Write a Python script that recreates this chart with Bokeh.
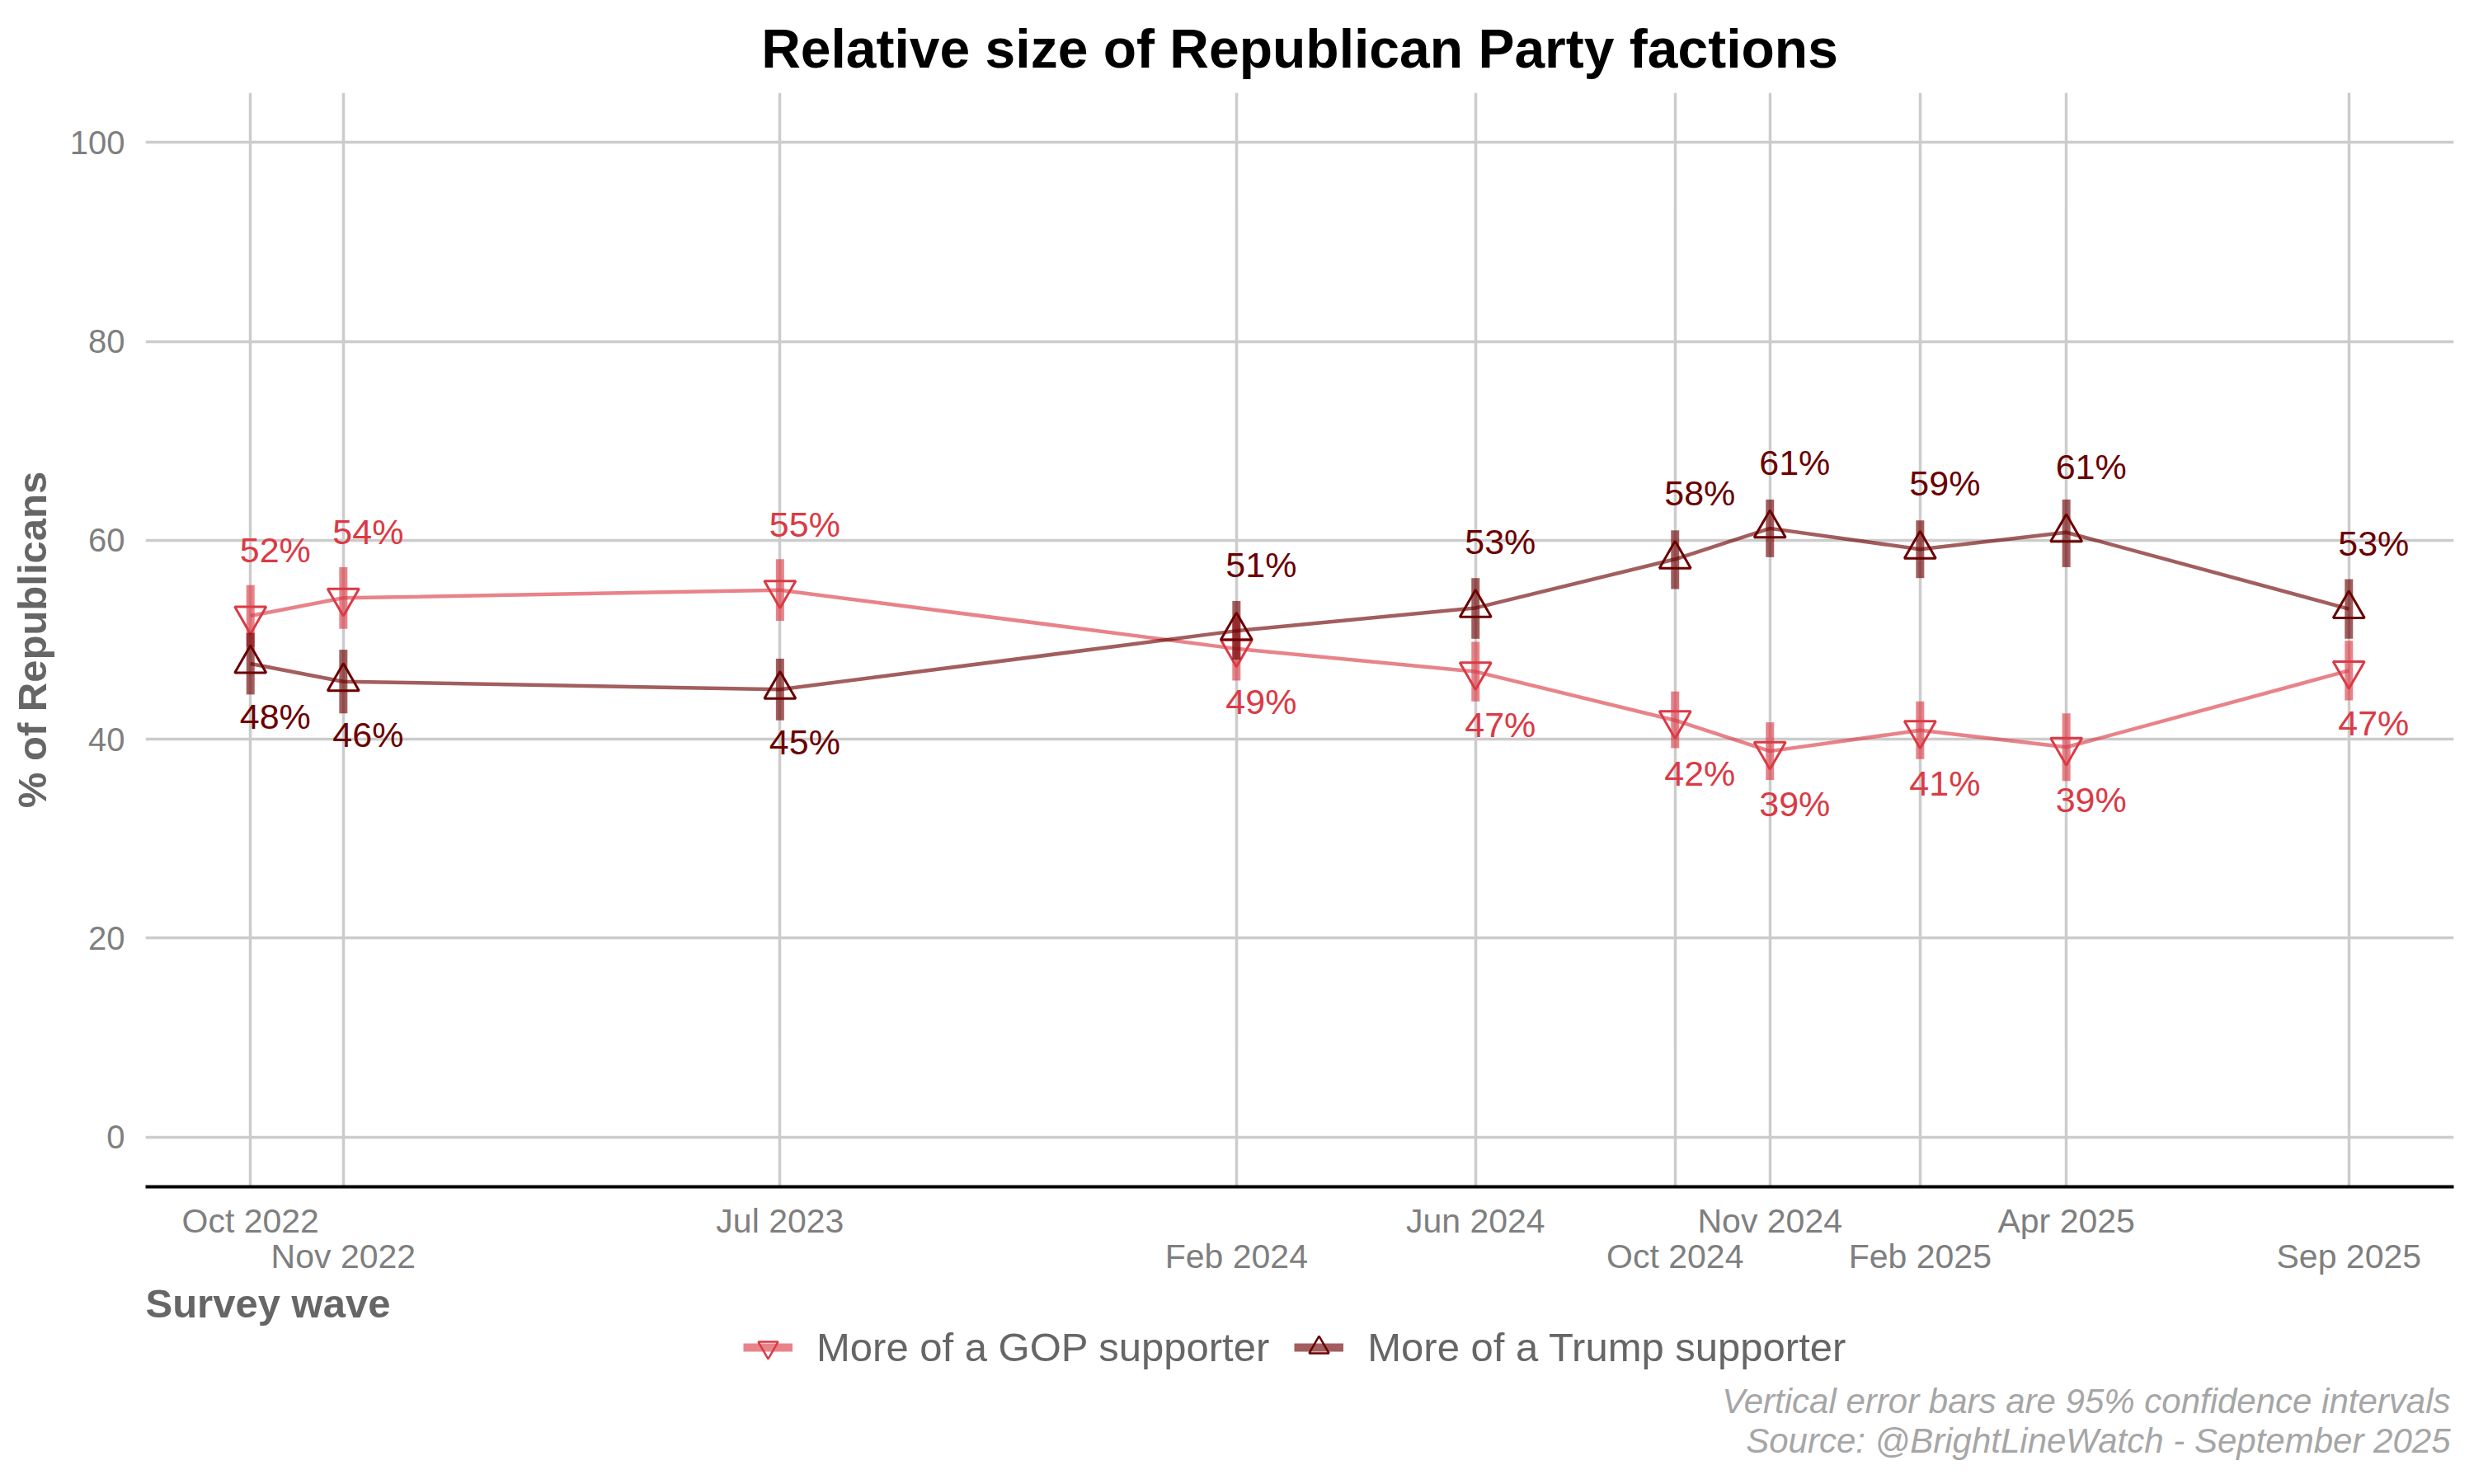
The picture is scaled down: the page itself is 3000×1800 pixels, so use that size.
import numpy as np
import pandas as pd
from bokeh.plotting import figure
from bokeh.layouts import column
from bokeh.models import (Range1d, FixedTicker, DatetimeAxis, Title, Legend, LegendItem,
                          ColumnDataSource, Label)
from bokeh.core.properties import value
from bokeh.embed import file_html
from bokeh.resources import INLINE

# ---------------- data ----------------
wave_dates = ["2022-10-12", "2022-11-28", "2023-07-07", "2024-02-23", "2024-06-23",
              "2024-10-02", "2024-11-19", "2025-02-03", "2025-04-18", "2025-09-08"]
wave_labels = ["Oct 2022", "Nov 2022", "Jul 2023", "Feb 2024", "Jun 2024",
               "Oct 2024", "Nov 2024", "Feb 2025", "Apr 2025", "Sep 2025"]

gop = [52.4, 54.2, 55.0, 49.1, 46.8, 41.9, 38.8, 40.9, 39.2, 46.9]
gop_lo = [49.3, 51.1, 51.9, 45.9, 43.8, 39.1, 35.9, 38.0, 35.8, 43.9]
gop_hi = [55.5, 57.3, 58.1, 52.3, 49.8, 44.8, 41.7, 43.8, 42.6, 49.9]

trump = [47.6, 45.8, 45.0, 50.9, 53.2, 58.1, 61.2, 59.1, 60.8, 53.1]
trump_lo = [44.5, 42.6, 41.9, 48.0, 50.1, 55.1, 58.3, 56.2, 57.3, 50.1]
trump_hi = [50.7, 49.0, 48.1, 53.9, 56.2, 61.0, 64.1, 62.0, 64.1, 56.1]

series_names = ["More of a GOP supporter", "More of a Trump supporter"]
series_colors = ["#DB3A45", "#6B0000"]

title_text = "Relative size of Republican Party factions"
y_title = "% of Republicans"
x_title = "Survey wave"
caption1 = "Vertical error bars are 95% confidence intervals"
caption2 = "Source: @BrightLineWatch - September 2025"
y_ticks = [0, 20, 40, 60, 80, 100]

# ---------------- derived ----------------
dates = pd.to_datetime(wave_dates)
ms = [int(d.value // 10**6) for d in dates]
span = ms[-1] - ms[0]

FONT = "Liberation Sans"
W = 2984
H_MAIN = 1551
H_FOOT = 1784 - H_MAIN
BL, BR = 176, 9
FRAME_W = W - BL - BR

p = figure(x_axis_type="datetime", output_backend="svg", toolbar_location=None,
           width=W, height=H_MAIN,
           x_range=Range1d(ms[0] - 0.05 * span, ms[-1] + 0.05 * span),
           y_range=Range1d(-5, 105),
           min_border_left=BL, min_border_right=BR, min_border_top=112, min_border_bottom=112,
           background_fill_color="white", border_fill_color="white")
p.outline_line_color = None

# title
p.title = Title(text=title_text, align="center", text_font=FONT, text_font_size="66px",
                text_font_style="bold", text_color="black", standoff=34)

# y axis
yax = p.yaxis[0]
yax.ticker = FixedTicker(ticks=y_ticks)
yax.axis_line_color = None
yax.major_tick_line_color = None
yax.minor_tick_line_color = None
yax.major_label_text_font = FONT
yax.major_label_text_font_size = "40px"
yax.major_label_text_color = "#7F7F7F"
yax.major_label_standoff = 19
yax.axis_label = y_title
yax.axis_label_text_font = FONT
yax.axis_label_text_font_size = "49px"
yax.axis_label_text_font_style = "bold"
yax.axis_label_text_color = "#666666"
yax.axis_label_standoff = 16

# x axes (two rows of tick labels)
row1 = [m for i, m in enumerate(ms) if i % 2 == 0]
row2 = [m for i, m in enumerate(ms) if i % 2 == 1]
xax = p.xaxis[0]
xax.ticker = FixedTicker(ticks=row1)
xax.major_label_overrides = {m: wave_labels[i] for i, m in enumerate(ms) if i % 2 == 0}
xax2 = DatetimeAxis(ticker=FixedTicker(ticks=row2),
                    major_label_overrides={m: wave_labels[i] for i, m in enumerate(ms) if i % 2 == 1})
p.add_layout(xax2, "below")
for ax in (xax, xax2):
    ax.major_tick_line_color = None
    ax.minor_tick_line_color = None
    ax.major_label_text_font = FONT
    ax.major_label_text_font_size = "41px"
    ax.major_label_text_color = "#7F7F7F"
xax.axis_line_color = "black"
xax.axis_line_width = 4
xax.major_label_standoff = 12
xax2.axis_line_color = None
xax2.major_label_standoff = -12

# grid
p.xgrid[0].ticker = FixedTicker(ticks=ms)
p.ygrid[0].ticker = FixedTicker(ticks=y_ticks)
for gr in (p.xgrid[0], p.ygrid[0]):
    gr.grid_line_color = "#CCCCCC"
    gr.grid_line_width = 3.5

# series
vals = [gop, trump]
los = [gop_lo, trump_lo]
his = [gop_hi, trump_hi]
markers = ["inverted_triangle", "triangle"]
for k in range(2):
    col = series_colors[k]
    src = ColumnDataSource(dict(x=ms, y=vals[k], lo=los[k], hi=his[k]))
    p.line("x", "y", source=src, line_color=col, line_alpha=0.63, line_width=4.5)
    p.segment(x0="x", y0="lo", x1="x", y1="hi", source=src, line_color=col,
              line_alpha=0.63, line_width=10)
    p.scatter("x", "y", source=src, marker=markers[k], size=38, fill_color=None,
              line_color=col, line_width=3)

# percentage labels
g = np.array(gop)
t = np.array(trump)
gop_above = g > t
for k, arr, above in ((0, g, gop_above), (1, t, ~gop_above)):
    for lab_above in (True, False):
        sel = above if lab_above else ~above
        if not sel.any():
            continue
        xs = [ms[i] for i in range(len(ms)) if sel[i]]
        ys = [float(arr[i]) for i in range(len(ms)) if sel[i]]
        txt = [f"{round(arr[i])}%" for i in range(len(ms)) if sel[i]]
        p.text(x=xs, y=ys, text=txt, text_font=value(FONT), text_font_size="43px",
               text_color=series_colors[k], text_align="left", text_baseline="middle",
               x_offset=-13, y_offset=(-80 if lab_above else 64))

# ---------------- footer: axis title, legend, captions ----------------
# footer frame is aligned with the main frame; its coordinates are pixels from the frame's top-left
q = figure(width=W, height=H_FOOT, output_backend="svg", toolbar_location=None,
           x_range=Range1d(0, FRAME_W), y_range=Range1d(H_FOOT, 0),
           x_axis_location=None, y_axis_location=None,
           min_border_left=BL, min_border_right=BR, min_border_top=0, min_border_bottom=0,
           background_fill_color="white", border_fill_color="white")
q.outline_line_color = None
q.grid.visible = False

q.add_layout(Label(x=0, y=29, text=x_title, text_font=FONT, text_font_size="49px",
                   text_font_style="bold", text_color="#666666",
                   text_align="left", text_baseline="middle"))
for yy, cap in ((148, caption1), (196, caption2)):
    q.add_layout(Label(x=FRAME_W - 4, y=yy, text=cap, text_font=FONT, text_font_size="42px",
                       text_font_style="italic", text_color="#A6A6A6",
                       text_align="right", text_baseline="middle"))

# legend keys: proxy renderers kept outside the visible footer range
legend_items = []
for k in range(2):
    col = series_colors[k]
    kb = q.segment(x0=[-1000], y0=[-1000], x1=[-1000], y1=[-990], line_color=col,
                   line_alpha=0.63, line_width=10)
    km = q.scatter(x=[-1000], y=[-1000], marker=markers[k], size=20, fill_color=None,
                   line_color=col, line_width=2.5)
    legend_items.append(LegendItem(label=series_names[k], renderers=[kb, km]))

legend = Legend(items=legend_items, orientation="horizontal", location=(725, 112),
                label_text_font=FONT, label_text_font_size="49px", label_text_color="#666666",
                glyph_width=60, glyph_height=76, label_standoff=29, spacing=30,
                padding=0, margin=0, border_line_color=None, background_fill_alpha=0)
q.add_layout(legend, "center")

layout = column(p, q, spacing=0)
open("out.html", "w").write(file_html(layout, INLINE))
